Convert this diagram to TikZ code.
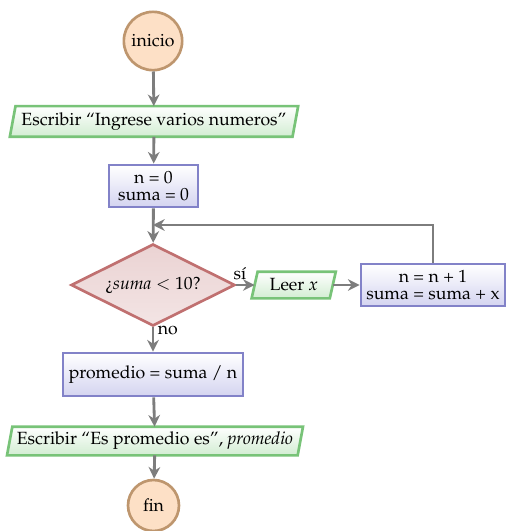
\documentclass[tikz,border=0pt]{standalone}
\usepackage[T1]{fontenc}
\usepackage{mathpazo}
\usetikzlibrary{shapes.geometric,arrows.meta}
\definecolor{circfill}{RGB}{253,224,198}
\definecolor{circdraw}{RGB}{190,150,110}
\definecolor{iofill}{RGB}{210,237,210}
\definecolor{iodraw}{RGB}{120,195,120}
\definecolor{boxfill}{RGB}{212,212,240}
\definecolor{boxdraw}{RGB}{130,130,200}
\definecolor{decfill}{RGB}{228,196,196}
\definecolor{decdraw}{RGB}{192,112,112}
\definecolor{arrcol}{RGB}{125,125,125}
\newcommand{\ioshape}[2]{%
  \fill[top color=white,bottom color=iofill]
    ([xshift=#2]#1.north west) -- ([xshift=#2]#1.north east) --
    ([xshift=-#2]#1.south east) -- ([xshift=-#2]#1.south west) -- cycle;
  \draw[draw=iodraw,line width=1.6pt,line join=miter]
    ([xshift=#2]#1.north west) -- ([xshift=#2]#1.north east) --
    ([xshift=-#2]#1.south east) -- ([xshift=-#2]#1.south west) -- cycle;
  \node[iotext] at (#1) {\csname iotxt#1\endcsname};}
\tikzset{
  txt/.style={font=\fontsize{10.6}{11}\selectfont},
  termbox/.style={circle,draw=circdraw,fill=circfill,line width=1.6pt,inner sep=0pt,txt},
  iobox/.style={rectangle,inner sep=0pt,txt},
  iotext/.style={inner sep=0pt,txt},
  procbox/.style={rectangle,draw=boxdraw,line width=1.7pt,top color=white,bottom color=boxfill,
     inner sep=1pt,align=center},
  decbox/.style={diamond,aspect=2,draw=decdraw,line width=1.6pt,top color=decfill!75,bottom color=decfill!45,
     inner sep=0pt,txt},
  flow/.style={draw=arrcol,line width=1.7pt,-{Stealth[length=7pt,width=7pt]}},
  lbl/.style={txt,inner sep=0pt}
}
\begin{document}
\begin{tikzpicture}[x=0.6pt,y=-0.6pt]
\useasboundingbox (0,0) rectangle (505,531);
\node[termbox,minimum size=35pt] (ini) at (153,41) {inicio};
\node[iobox,minimum width=169.2pt,minimum height=18pt] (esc1) at (154,121.5) {};
\node[procbox,minimum width=53.4pt,minimum height=25.2pt,font=\fontsize{10.6}{10}\selectfont] (init) at (153.5,186) {n = 0\\suma = 0};
\node[decbox,minimum width=98.4pt,minimum height=49.2pt] (dec) at (153,285) {?`\textit{suma} $<$ 10?};
\node[iobox,minimum width=46.5pt,minimum height=15.6pt] (leer) at (293.7,285) {};
\node[procbox,minimum width=86.4pt,minimum height=25.2pt,inner ysep=0.5pt,font=\fontsize{10.6}{9.8}\selectfont] (inc) at (433,285) {n = n + 1\\suma = suma + x};
\node[procbox,minimum width=108pt,minimum height=25.8pt,txt] (prom) at (153,374.5) {promedio = suma / n};
\node[iobox,minimum width=174pt,minimum height=16.8pt] (esc2) at (155,441) {};
\node[termbox,minimum size=30.6pt] (fin) at (153.5,505.5) {fin};
\expandafter\def\csname iotxtesc1\endcsname{Escribir ``Ingrese varios numeros''}
\expandafter\def\csname iotxtleer\endcsname{Leer \textit{x}}
\expandafter\def\csname iotxtesc2\endcsname{Escribir ``Es promedio es'', \textit{promedio}}
\ioshape{esc1}{1.7pt}
\ioshape{leer}{1.8pt}
\ioshape{esc2}{1.6pt}
\coordinate (loop) at (153,225);
\draw[flow] (ini) -- (esc1);
\draw[flow] (esc1) -- (init);
\draw[flow] (init) -- (dec);
\draw[flow] (dec) -- node[lbl,pos=0.2,above=2pt] {s\'{\i}} (leer);
\draw[flow] (leer) -- (inc);
\draw[flow] (inc.north) |- (loop);
\draw[flow] (dec) -- node[lbl,pos=0.12,right=2pt] {no} (prom);
\draw[flow] (prom) -- (esc2);
\draw[flow] (esc2) -- (fin);
\end{tikzpicture}
\end{document}
